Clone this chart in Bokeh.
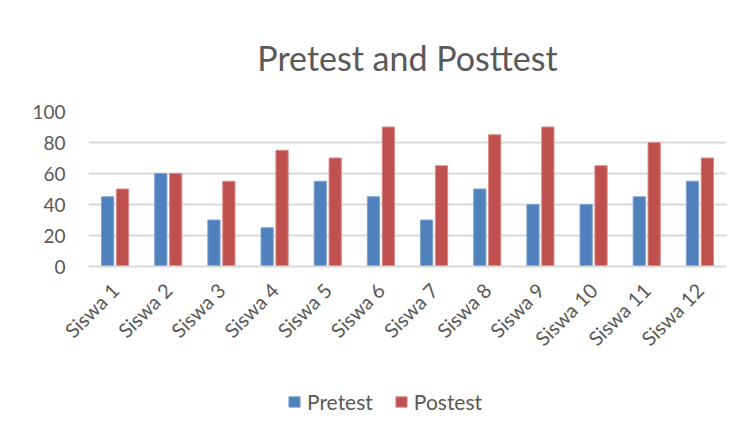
from bokeh.plotting import figure
from bokeh.layouts import column
from bokeh.models import FactorRange, Range1d, Legend, LegendItem, ColumnDataSource, FixedTicker
from bokeh.transform import dodge
from bokeh.embed import file_html
from bokeh.resources import INLINE
import math

categories = ["Siswa 1", "Siswa 2", "Siswa 3", "Siswa 4", "Siswa 5", "Siswa 6",
              "Siswa 7", "Siswa 8", "Siswa 9", "Siswa 10", "Siswa 11", "Siswa 12"]
pretest = [45, 60, 30, 25, 55, 45, 30, 50, 40, 40, 45, 55]
postest = [50, 60, 55, 75, 70, 90, 65, 85, 90, 65, 80, 70]
y_ticks = [0, 20, 40, 60, 80, 100]
title_text = "Pretest and Posttest"
series_names = ["Pretest", "Postest"]

FONT = "Lato"
TXT = "#595959"
BLUE = "#4F81BD"
RED = "#C0504D"
GRID = "#D9D9D9"

src = ColumnDataSource(dict(cat=categories, pre=pretest, post=postest))

p = figure(width=735, height=361, x_range=FactorRange(factors=categories),
           y_range=Range1d(0, 100), output_backend="svg", toolbar_location=None,
           title=title_text, min_border_left=88, min_border_right=9,
           min_border_top=50, min_border_bottom=85)

p.title.text_font = FONT
p.title.text_font_size = "34px"
p.title.text_font_style = "normal"
p.title.text_color = TXT
p.title.align = "center"
p.title.standoff = 68

r1 = p.vbar(x=dodge("cat", -0.14, range=p.x_range), top="pre", width=0.23, source=src,
            fill_color=BLUE, line_color="#7fa3d0", line_width=1)
r2 = p.vbar(x=dodge("cat", 0.14, range=p.x_range), top="post", width=0.23, source=src,
            fill_color=RED, line_color="#d88a88", line_width=1)

p.outline_line_color = None
p.xgrid.grid_line_color = None
p.ygrid.grid_line_color = GRID
p.ygrid.grid_line_width = 2
p.yaxis.ticker = FixedTicker(ticks=y_ticks)
p.yaxis.axis_line_color = None
p.yaxis.major_tick_line_color = None
p.yaxis.minor_tick_line_color = None
p.yaxis.major_label_text_font = FONT
p.yaxis.major_label_text_font_size = "19px"
p.yaxis.major_label_text_color = TXT
p.yaxis.major_label_standoff = 17

p.xaxis.axis_line_color = GRID
p.xaxis.axis_line_width = 2
p.xaxis.major_tick_line_color = None
p.xaxis.minor_tick_line_color = None
p.xaxis.major_label_orientation = math.pi / 4
p.xaxis.major_label_text_font = FONT
p.xaxis.major_label_text_font_size = "20px"
p.xaxis.major_label_text_color = TXT
p.xaxis.major_label_standoff = 14

# legend strip below the chart
lg = figure(width=735, height=64, x_range=Range1d(0, 1), y_range=Range1d(0, 1),
            output_backend="svg", toolbar_location=None, min_border=0)
lg.axis.visible = False
lg.grid.visible = False
lg.outline_line_color = None
d1 = lg.vbar(x=[0.5], bottom=[-10], top=[-5], width=0.1, fill_color=BLUE, line_color="#7fa3d0")
d2 = lg.vbar(x=[0.5], bottom=[-10], top=[-5], width=0.1, fill_color=RED, line_color="#d88a88")
legend = Legend(items=[LegendItem(label=series_names[0], renderers=[d1]),
                       LegendItem(label=series_names[1], renderers=[d2])],
                orientation="horizontal", location=(199, 11),
                border_line_color=None, background_fill_alpha=0,
                label_text_font=FONT, label_text_font_size="21px", label_text_color=TXT,
                glyph_width=14, glyph_height=13, label_standoff=6,
                spacing=21, padding=6, margin=0)
lg.add_layout(legend)

layout = column(p, lg, spacing=0)
open("out.html", "w").write(file_html(layout, INLINE))
